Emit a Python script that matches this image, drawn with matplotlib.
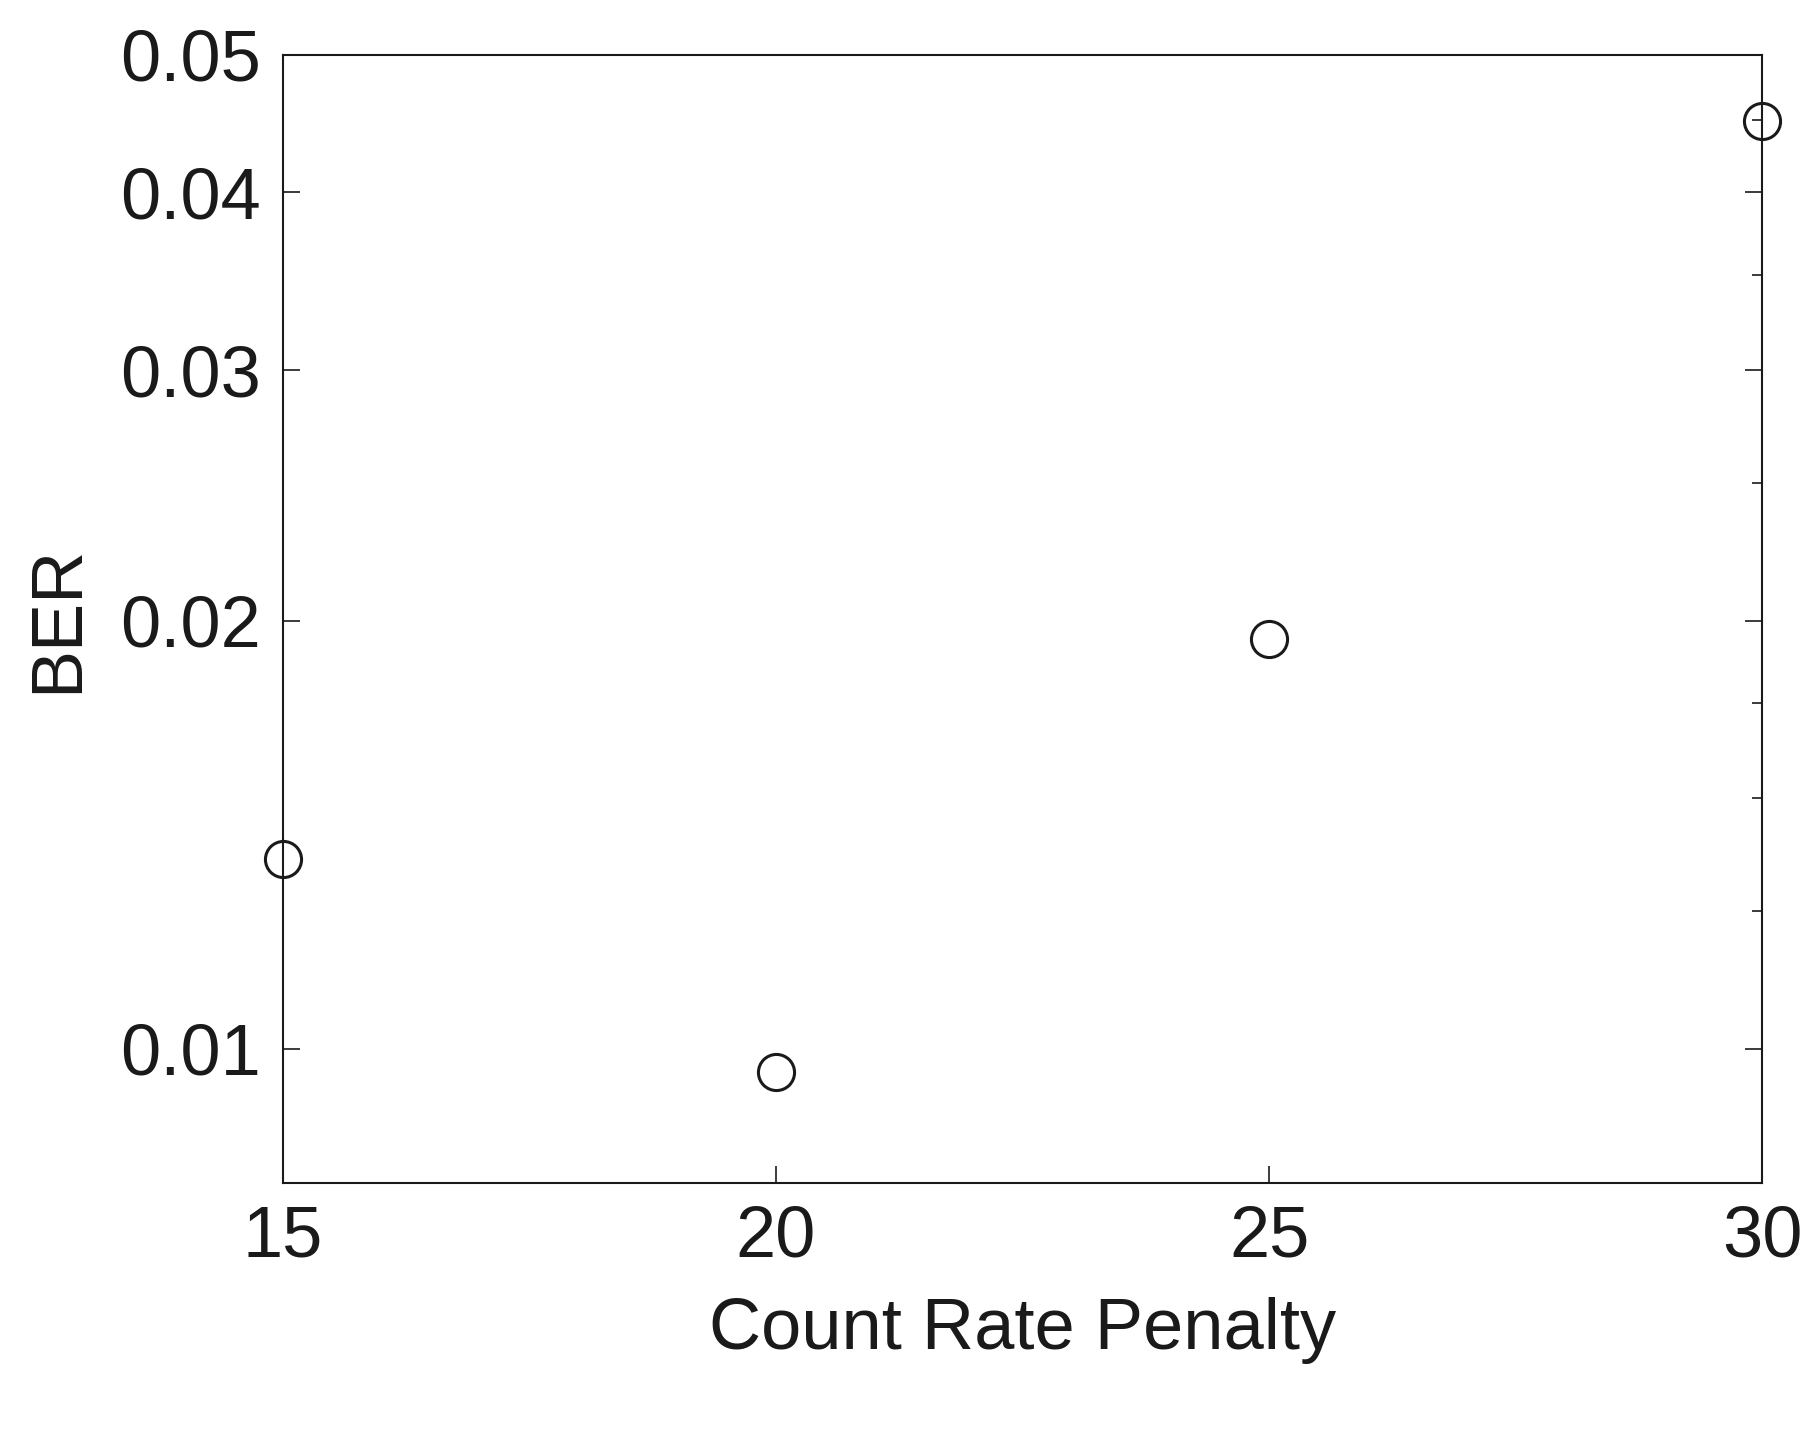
import matplotlib
matplotlib.use('Agg')
import matplotlib.pyplot as plt
from matplotlib.ticker import FixedLocator, FixedFormatter, NullFormatter

# data
penalty = [15, 20, 25, 30]
ber = [0.0136, 0.00963, 0.0194, 0.0449]
yticks = [0.01, 0.02, 0.03, 0.04, 0.05]
ytick_labels = ['0.01', '0.02', '0.03', '0.04', '0.05']
yminor = [0.0125, 0.015, 0.0175, 0.025, 0.035, 0.045]
xticks = [15, 20, 25, 30]

plt.rcParams['font.family'] = ['Liberation Sans', 'DejaVu Sans']

fig = plt.figure(figsize=(18.13, 14.37), dpi=100)
ax = fig.add_axes([0.156, 0.177, 0.816, 0.785])
ax.plot(penalty, ber, 'o', mfc='none', mec='#1a1a1a', ms=26, mew=2.2, clip_on=False)
ax.set_yscale('log')
ax.set_xlim(15, 30)
ax.set_ylim(0.00805, 0.05)
ax.yaxis.set_major_locator(FixedLocator(yticks))
ax.yaxis.set_major_formatter(FixedFormatter(ytick_labels))
ax.yaxis.set_minor_locator(FixedLocator(yminor))
ax.yaxis.set_minor_formatter(NullFormatter())
ax.set_xticks(xticks)
ax.tick_params(which='both', direction='in', right=True, top=False,
               labelsize=52, width=1.2, colors='#1a1a1a', pad=16)
ax.tick_params(which='major', length=12)
ax.tick_params(which='minor', length=7, left=False)
for s in ax.spines.values():
    s.set_linewidth(1.5)
    s.set_color('#1a1a1a')
ax.set_xlabel('Count Rate Penalty', fontsize=52, color='#1a1a1a', labelpad=18)
ax.set_ylabel('BER', fontsize=52, color='#1a1a1a', labelpad=20)

fig.savefig('out.png', dpi=100)
